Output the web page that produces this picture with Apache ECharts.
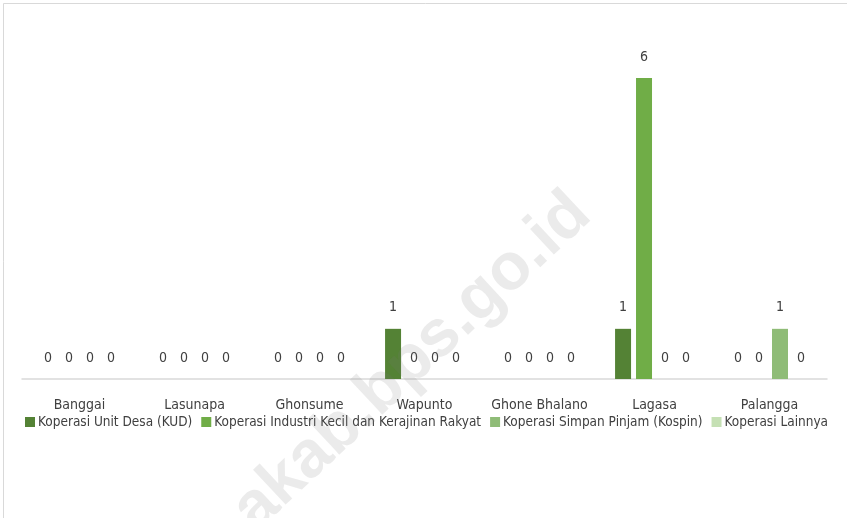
<!DOCTYPE html>
<html>
<head>
<meta charset="utf-8">
<script src="https://cdn.jsdelivr.net/npm/echarts@6/dist/echarts.min.js"></script>
<style>
html,body{margin:0;padding:0;background:#fff;}
#chart{width:847px;height:518px;}
</style>
</head>
<body>
<div id="chart"></div>
<script>
var categories = ['Banggai', 'Lasunapa', 'Ghonsume', 'Wapunto', 'Ghone Bhalano', 'Lagasa', 'Palangga'];
var seriesNames = ['Koperasi Unit Desa (KUD)', 'Koperasi Industri Kecil dan Kerajinan Rakyat', 'Koperasi Simpan Pinjam (Kospin)', 'Koperasi Lainnya'];
var kud = [0, 0, 0, 1, 0, 1, 0];
var kopinkra = [0, 0, 0, 0, 0, 6, 0];
var kospin = [0, 0, 0, 0, 0, 0, 1];
var lainnya = [0, 0, 0, 0, 0, 0, 0];
var colors = ['#548235', '#70AD47', '#8FBC77', '#C5E0B4'];

var FONT = '"Liberation Sans Narrow", "DejaVu Sans Condensed", sans-serif';
var chart = echarts.init(document.getElementById('chart'), null, {renderer: 'canvas'});

function mk(name, data, color) {
  return {
    name: name,
    type: 'bar',
    data: data,
    barWidth: 16,
    barGap: '31%',
    itemStyle: {color: color},
    label: {show: true, position: 'top', distance: 14, color: '#404040', fontSize: 14, fontFamily: FONT},
    emphasis: {disabled: true}
  };
}

chart.setOption({
  animation: false,
  backgroundColor: '#ffffff',
  color: colors,
  grid: {left: 22, right: 20, top: 78, bottom: 139, containLabel: false},
  legend: {
    show: true,
    left: 20,
    top: 410,
    width: 830,
    itemWidth: 10,
    itemHeight: 10,
    itemGap: 9,
    icon: 'rect',
    textStyle: {color: '#404040', fontSize: 13.5, fontFamily: FONT, padding: [0, 0, 0, -2]},
    data: seriesNames
  },
  xAxis: {
    type: 'category',
    data: categories,
    axisLine: {show: true, lineStyle: {color: '#d9d9d9', width: 1.5}},
    axisTick: {show: false},
    axisLabel: {color: '#404040', fontSize: 14, fontFamily: FONT, margin: 19, interval: 0}
  },
  yAxis: {
    type: 'value',
    min: 0,
    max: 6,
    show: false,
    splitLine: {show: false}
  },
  series: [
    mk(seriesNames[0], kud, colors[0]),
    mk(seriesNames[1], kopinkra, colors[1]),
    mk(seriesNames[2], kospin, colors[2]),
    mk(seriesNames[3], lainnya, colors[3])
  ],
  graphic: [
    {
      type: 'rect',
      left: 1, top: 1,
      shape: {width: 844, height: 530},
      style: {fill: 'none', stroke: '#d9d9d9', lineWidth: 1},
      silent: true
    },
    {
      type: 'text',
      x: 412, y: 362,
      rotation: 43 * Math.PI / 180,
      z: 100,
      silent: true,
      style: {
        text: 'akab.bps.go.id',
        fill: 'rgba(120,120,120,0.15)',
        font: 'bold 66px "Liberation Sans", sans-serif',
        textAlign: 'center',
        textVerticalAlign: 'middle'
      }
    }
  ]
});
</script>
</body>
</html>
